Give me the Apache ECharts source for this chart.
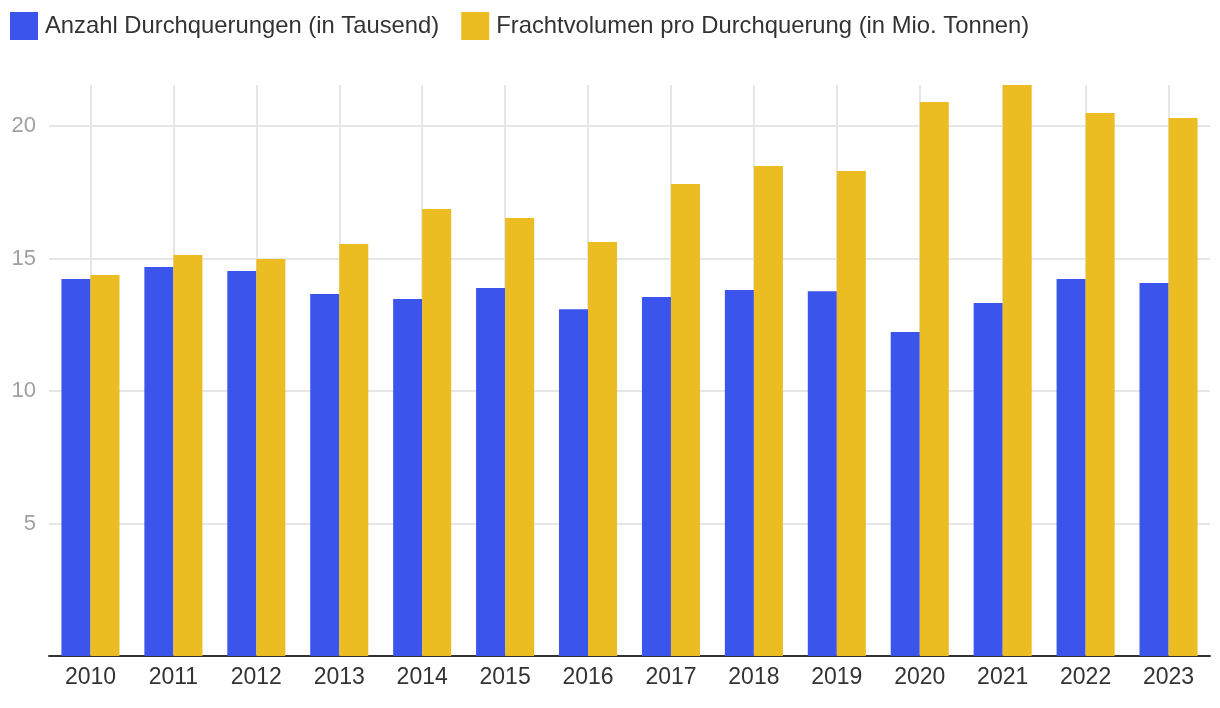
<!DOCTYPE html>
<html>
<head>
<meta charset="utf-8">
<style>html,body{margin:0;padding:0;background:#fff;}#c{width:1220px;height:708px;}</style>
<script src="https://cdn.jsdelivr.net/npm/echarts@6/dist/echarts.min.js"></script>
</head>
<body>
<div id="c"></div>
<script>
const categories = ['2010','2011','2012','2013','2014','2015','2016','2017','2018','2019','2020','2021','2022','2023'];
const seriesNames = ['Anzahl Durchquerungen (in Tausend)', 'Frachtvolumen pro Durchquerung (in Mio. Tonnen)'];
const crossings = [14.23, 14.68, 14.53, 13.66, 13.47, 13.89, 13.09, 13.55, 13.81, 13.77, 12.23, 13.32, 14.23, 14.08];
const freight = [14.38, 15.13, 14.98, 15.55, 16.87, 16.53, 15.62, 17.81, 18.49, 18.30, 20.91, 21.55, 20.49, 20.30];
const yTicks = [0, 5, 10, 15, 20];

const halfSteps = [];
for (let i = 0; i <= categories.length * 2; i++) halfSteps.push(String(i));

const chart = echarts.init(document.getElementById('c'));
chart.setOption({
  animation: false,
  textStyle: { fontFamily: 'Liberation Sans, Arial, sans-serif' },
  legend: {
    left: 10, top: 12, padding: 0, itemWidth: 28, itemHeight: 28, itemGap: 22,
    icon: 'rect',
    textStyle: { fontSize: 23.8, color: '#333', padding: [2, 0, 0, 2] },
    data: seriesNames
  },
  grid: { left: 49, right: 10, top: 85, bottom: 52, containLabel: false },
  xAxis: [{
    type: 'category', data: categories,
    axisLine: { lineStyle: { color: '#333', width: 2 } },
    axisTick: { show: false },
    splitLine: { show: false },
    axisLabel: { fontSize: 23, color: '#333', margin: 10 }
  }, {
    type: 'category', data: halfSteps, boundaryGap: false, position: 'bottom',
    axisLine: { show: false }, axisTick: { show: false }, axisLabel: { show: false },
    splitLine: { show: true, interval: function (idx) { return idx % 2 === 1; }, lineStyle: { color: '#e6e6e6', width: 2 } }
  }],
  yAxis: {
    type: 'value', min: yTicks[0], max: Math.max(...freight, ...crossings), interval: 5,
    axisLine: { show: false }, axisTick: { show: false },
    axisLabel: { fontSize: 22, color: '#a0a0a0', margin: 13, padding: [2, 0, 0, 0], showMinLabel: false, showMaxLabel: false },
    splitLine: { show: true, showMinLine: false, showMaxLine: false, lineStyle: { color: '#e6e6e6', width: 2 } }
  },
  series: [{
    name: seriesNames[0], type: 'bar', data: crossings, barGap: '0%', barCategoryGap: '30%',
    itemStyle: { color: '#3a54ec' }
  }, {
    name: seriesNames[1], type: 'bar', data: freight, barGap: '0%', barCategoryGap: '30%',
    itemStyle: { color: '#ebbd23' }
  }]
});
</script>
</body>
</html>
